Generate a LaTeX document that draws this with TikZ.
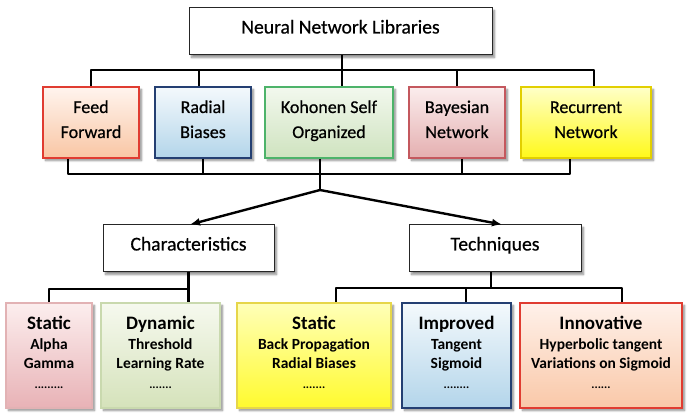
\documentclass[tikz,border=0pt]{standalone}
\usepackage{fontspec}
\setmainfont{Carlito}
\newfontfamily\medf{Carlito}[FakeBold=0.6]
\usetikzlibrary{arrows.meta,shadows.blur,calc}
\definecolor{ffD}{HTML}{E03C31}\definecolor{ffT}{HTML}{FFF4EE}\definecolor{ffB}{HTML}{F9C6A4}
\definecolor{rbD}{HTML}{243F72}\definecolor{rbT}{HTML}{F4F9FC}\definecolor{rbB}{HTML}{B3D5EA}
\definecolor{koD}{HTML}{4DB36A}\definecolor{koT}{HTML}{F2F8EE}\definecolor{koB}{HTML}{CFE3BF}
\definecolor{bnD}{HTML}{C4585E}\definecolor{bnT}{HTML}{FBEDED}\definecolor{bnB}{HTML}{E4AFB0}
\definecolor{rnD}{HTML}{E2CF00}\definecolor{rnT}{HTML}{FFFFC8}\definecolor{rnB}{HTML}{FFF91A}
\definecolor{saD}{HTML}{E2B2B4}\definecolor{saT}{HTML}{FCEEEE}\definecolor{saB}{HTML}{E8B2B6}
\definecolor{dyD}{HTML}{C9D9AE}\definecolor{dyT}{HTML}{F6F9EF}\definecolor{dyB}{HTML}{D5E2BA}
\definecolor{sbD}{HTML}{E6D64A}\definecolor{sbT}{HTML}{FFFFB8}\definecolor{sbB}{HTML}{FFFA2E}
\definecolor{inD}{HTML}{E03C31}\definecolor{inT}{HTML}{FFF1EA}\definecolor{inB}{HTML}{F9C8A8}
\tikzset{
  shad/.style={blur shadow={shadow xshift=2.5pt,shadow yshift=-2.5pt,shadow blur radius=2pt,shadow blur steps=6,shadow opacity=45}},
  whitebox/.style={shad,draw=black!85,line width=1pt,fill=white,font=\medf\fontsize{19.6}{23}\selectfont,text height=12.5pt,text depth=8.5pt},
  midbox/.style={shad,line width=1.7pt,align=center,minimum height=71pt,font=\medf\fontsize{18}{25}\selectfont},
  lowbox/.style={shad,line width=1.7pt,align=center,minimum height=105pt,font=\fontsize{15.5}{19}\selectfont\bfseries},
  conn/.style={line width=2.4pt,line join=round},
  arr/.style={conn,-{Latex[length=10pt,width=8pt]}},
}
\newcommand{\bt}[1]{{\fontsize{19}{19}\selectfont #1}}
\newcommand{\dts}[1]{{\fontsize{12}{12}\selectfont #1}}
\newcommand{\hs}{\rule{0pt}{12.5pt}}
\newcommand{\ds}[1]{\rule[-#1]{0pt}{0pt}}
\begin{document}
\begin{tikzpicture}[x=1pt,y=-1pt]
\useasboundingbox (0,0) rectangle (689,417);
% top
\node[whitebox,minimum width=303pt,minimum height=47pt] (top) at (340.5,31.5) {Neural Network Libraries};
% middle row
\node[midbox,draw=ffD,top color=ffT,bottom color=ffB,minimum width=96pt] (ff) at (91,122.5) {\hs Feed\\Forward\ds{6.5pt}};
\node[midbox,draw=rbD,top color=rbT,bottom color=rbB,minimum width=96pt] (rb) at (203,122.5) {\hs Radial\\Biases\ds{6.5pt}};
\node[midbox,draw=koD,top color=koT,bottom color=koB,minimum width=128pt] (ko) at (329,122.5) {\hs Kohonen Self\\Organized\ds{6.5pt}};
\node[midbox,draw=bnD,top color=bnT,bottom color=bnB,minimum width=96pt] (bn) at (457,122.5) {\hs Bayesian\\Network\ds{6.5pt}};
\node[midbox,draw=rnD,top color=rnT,bottom color=rnB,minimum width=130pt] (rn) at (586,122.5) {\hs Recurrent\\Network\ds{6.5pt}};
% second level
\node[whitebox,minimum width=171pt,minimum height=47pt] (ch) at (188.5,248.5) {Characteristics};
\node[whitebox,minimum width=172pt,minimum height=47pt] (te) at (495,248.5) {Techniques};
% bottom row
\node[lowbox,draw=saD,top color=saT,bottom color=saB,minimum width=86pt] (s1) at (49,355.5) {\bt{Static}\\[1pt]Alpha\\Gamma\\[1.5pt]\dts{.........}\ds{6pt}};
\node[lowbox,draw=dyD,top color=dyT,bottom color=dyB,minimum width=119pt] (dy) at (160.5,355.5) {\bt{Dynamic}\\[1pt]Threshold\\Learning Rate\\[1.5pt]\dts{.......}\ds{6pt}};
\node[lowbox,draw=sbD,top color=sbT,bottom color=sbB,minimum width=154pt] (s2) at (314,355.5) {\bt{Static}\\[1pt]Back Propagation\\Radial Biases\\[1.5pt]\dts{.......}\ds{6pt}};
\node[lowbox,draw=rbD,top color=rbT,bottom color=rbB,minimum width=109pt] (im) at (456.5,355.5) {\bt{Improved}\\[1pt]Tangent\\Sigmoid\\[1.5pt]\dts{........}\ds{6pt}};
\node[lowbox,draw=inD,top color=inT,bottom color=inB,minimum width=162pt] (in) at (601,355.5) {\bt{Innovative}\\[1pt]Hyperbolic tangent\\Variations on Sigmoid\\[1.5pt]\dts{......}\ds{6pt}};
% junctions
\coordinate (j1) at (342,70);
\coordinate (j2) at (320,174);
\coordinate (fan) at (320,190);
\coordinate (j3) at (188.5,289);
\coordinate (j4) at (491,288);
% top bus
\draw[conn] (top.south -| j1) -- (ko.north -| j1);
\draw[conn] (ff.north) |- (j1) -| ([xshift=8pt]rn.north);
\draw[conn] ([xshift=-4pt]rb.north) -- ([xshift=-4pt]rb.north |- j1);
\draw[conn] (bn.north) -- (bn.north |- j1);
% lower bus
\draw[conn] ([xshift=-23pt]ff.south) |- (j2) -| ([xshift=-16pt]rn.south);
\draw[conn] (rb.south) -- (rb.south |- j2);
\draw[conn] (ko.south -| j2) -- (fan);
\draw[conn] ([xshift=5pt]bn.south) -- ([xshift=5pt]bn.south |- j2);
% arrows
\draw[arr] (fan) -- ([xshift=1.5pt]ch.north);
\draw[arr] (fan) -- ([xshift=7pt]te.north);
% characteristics bus
\draw[conn] (ch.south) -- (dy.north -| ch.south);
\draw[conn] (s1.north) |- (j3);
% techniques bus
\draw[conn] ([xshift=-4pt]te.south) -- (j4);
\draw[conn] ([xshift=22pt]s2.north) |- (j4) -| ([xshift=21pt]in.north);
\draw[conn] ([xshift=9.5pt]im.north) -- ([xshift=9.5pt]im.north |- j4);
\end{tikzpicture}
\end{document}
